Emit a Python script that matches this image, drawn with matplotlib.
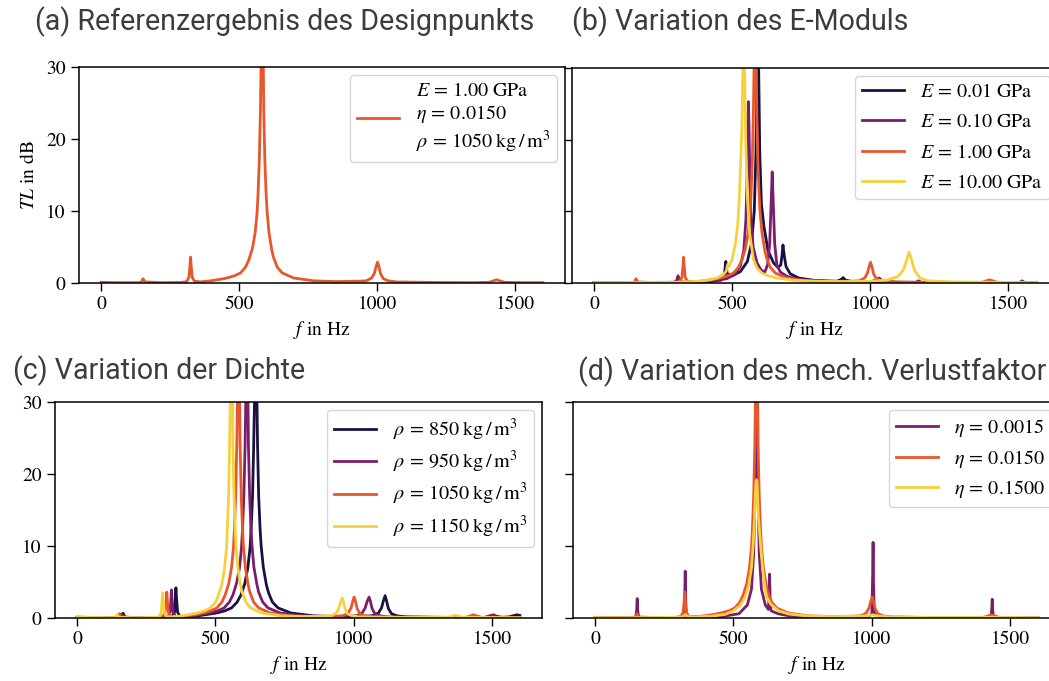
import matplotlib
matplotlib.use("Agg")
import matplotlib.pyplot as plt

plt.rcParams["font.family"] = "STIXGeneral"
plt.rcParams["mathtext.fontset"] = "stix"
plt.rcParams["font.size"] = 14

# colours of the four parameter levels
c_dark = "#1b1044"
c_purple = "#7a1d6d"
c_orange = "#e8562b"
c_yellow = "#f5d13d"

# reference design point (E = 1 GPa, eta = 0.015, rho = 1050 kg/m3)
f_ref = [0, 60, 140, 146, 152, 158, 220, 290, 310, 318, 322, 324, 326, 330, 338,
         360, 396, 430, 456, 483, 505, 523, 535, 548, 558, 565, 568.5, 573, 577, 580, 583,
         586, 589, 593, 597.5, 601, 608, 618, 624, 630, 638, 656, 697, 770, 850, 930,
         960, 980, 990, 996, 1001, 1006, 1012, 1022, 1040, 1070,
         1200, 1350, 1405, 1425, 1432, 1440, 1460, 1530, 1600]
tl_ref = [0.1, 0.05, 0.05, 0.15, 0.6, 0.15, 0.05, 0.08, 0.2, 0.8, 2.5, 3.6, 2.5, 0.8, 0.25,
          0.15, 0.3, 0.5, 0.7, 1.0, 1.4, 2.2, 3.2, 4.8, 7.0, 9.8, 12.5, 17, 24, 32, 45,
          36, 24, 17, 12.5, 10, 7.0, 4.6, 3.6, 3.0, 2.2, 1.4, 0.7, 0.3, 0.2, 0.25,
          0.3, 0.7, 1.4, 2.3, 2.9, 2.3, 1.3, 0.6, 0.3, 0.15,
          0.08, 0.05, 0.1, 0.35, 0.45, 0.35, 0.1, 0.05, 0.05]

# (b) Young's modulus variation
f_E001 = [0, 200, 300, 400, 460, 472, 477, 482, 500, 530, 555, 570, 580, 586, 590, 593,
          596, 600, 606, 615, 630, 650, 665, 676, 681, 684, 688, 695, 710, 740, 800, 880,
          895, 902, 910, 940, 1100, 1300, 1600]
tl_E001 = [0.05, 0.05, 0.1, 0.15, 0.4, 1.2, 3.0, 1.3, 1.0, 1.6, 3.0, 5.5, 10, 18, 30, 45,
           30, 18, 11, 7.9, 4.5, 2.8, 2.2, 2.5, 4.0, 5.3, 4.0, 2.3, 1.3, 0.7, 0.35, 0.25,
           0.5, 0.75, 0.4, 0.15, 0.1, 0.05, 0.05]

f_E010 = [0, 290, 300, 304, 308, 320, 420, 480, 510, 530, 542, 550, 554, 557, 559, 561,
          564, 568, 576, 590, 605, 618, 628, 636, 641, 645, 649, 654, 662, 675, 700, 740,
          800, 900, 1000, 1020, 1032, 1045, 1100, 1165, 1175, 1185, 1540, 1550, 1560, 1600]
tl_E010 = [0.05, 0.1, 0.4, 1.0, 0.4, 0.1, 0.2, 0.6, 1.2, 2.4, 4.5, 9, 15, 22, 25.3, 22,
           15, 9, 5, 2.8, 1.8, 1.5, 2.5, 5.5, 11, 15.5, 11, 5.5, 2.5, 1.5, 0.9, 0.5,
           0.3, 0.15, 0.15, 0.4, 0.7, 0.3, 0.1, 0.1, 0.3, 0.1, 0.05, 0.3, 0.05, 0.05]

f_E10 = [0, 300, 380, 420, 445, 465, 478, 484, 488, 500, 512, 520, 526, 531, 535, 539,
         542, 545, 549, 555, 563, 577, 590, 607, 630, 662, 720, 800, 900, 1000, 1060,
         1100, 1120, 1132, 1141, 1150, 1160, 1180, 1210, 1300, 1600]
tl_E10 = [0.05, 0.1, 0.25, 0.45, 0.7, 1.1, 1.6, 2.6, 2.3, 3.3, 5.5, 8, 12, 17, 21.4, 30,
          45, 30, 20, 12, 7, 3.3, 2.1, 1.4, 1.0, 0.7, 0.4, 0.25, 0.2, 0.25, 0.4,
          0.9, 1.8, 3.2, 4.3, 3.2, 1.8, 0.7, 0.3, 0.15, 0.05]

# (c) density variation
f_rho850 = [0, 150, 158, 166, 173, 240, 320, 343, 352, 355, 357, 359, 363, 372,
            400, 437, 504, 534, 558, 578, 592, 606, 617, 625, 629, 634, 638, 642, 645,
            648, 652, 656, 661, 665, 673, 684, 691, 697, 706, 726, 772, 853, 945, 1030,
            1066, 1089, 1100, 1107, 1113, 1118, 1125, 1136, 1156, 1190,
            1350, 1520, 1560, 1580, 1589, 1600]
tl_rho850 = [0.1, 0.05, 0.1, 0.65, 0.1, 0.05, 0.08, 0.2, 0.8, 2.8, 4.2, 2.8, 0.8, 0.2,
             0.15, 0.3, 0.7, 1.0, 1.4, 2.2, 3.2, 4.8, 7.0, 9.8, 12.5, 17, 24, 32, 45,
             36, 24, 17, 12.5, 10, 7.0, 4.6, 3.6, 3.0, 2.2, 1.4, 0.7, 0.3, 0.2, 0.25,
             0.3, 0.7, 1.4, 2.4, 3.1, 2.4, 1.3, 0.6, 0.3, 0.15,
             0.08, 0.05, 0.15, 0.35, 0.45, 0.35]

f_rho950 = [0, 145, 153, 160, 167, 230, 310, 328, 336, 339, 341, 343, 347, 355,
            380, 416, 479, 508, 531, 550, 563, 576, 587, 594, 598, 602.5, 607, 610, 613,
            616, 619, 623.5, 628, 632, 639, 650, 656, 662, 671, 690, 733, 810, 895, 980,
            1010, 1030, 1041, 1048, 1055, 1060, 1066, 1076, 1095, 1125,
            1300, 1470, 1490, 1505, 1513, 1535, 1600]
tl_rho950 = [0.1, 0.05, 0.1, 0.55, 0.1, 0.05, 0.08, 0.2, 0.8, 2.6, 3.9, 2.6, 0.8, 0.2,
             0.15, 0.3, 0.7, 1.0, 1.4, 2.2, 3.2, 4.8, 7.0, 9.8, 12.5, 17, 24, 32, 45,
             36, 24, 17, 12.5, 10, 7.0, 4.6, 3.6, 3.0, 2.2, 1.4, 0.7, 0.3, 0.2, 0.25,
             0.3, 0.7, 1.4, 2.3, 2.9, 2.3, 1.3, 0.6, 0.3, 0.15,
             0.08, 0.05, 0.3, 0.45, 0.3, 0.1, 0.05]

f_rho1150 = [0, 132, 139, 145, 151, 210, 285, 297, 304, 307, 309, 311, 315, 323,
             345, 378, 436, 461, 482, 500, 511, 524, 533, 540, 543, 547.5, 551, 554, 557,
             560, 563, 567, 571, 574, 581, 590, 596, 602, 610, 627, 666, 736, 810, 880,
             918, 937, 946, 952, 958, 963, 968, 977, 994, 1022,
             1200, 1340, 1360, 1367, 1374, 1395, 1600]
tl_rho1150 = [0.1, 0.05, 0.1, 0.45, 0.1, 0.05, 0.08, 0.2, 0.8, 2.5, 3.5, 2.5, 0.8, 0.2,
              0.15, 0.3, 0.7, 1.0, 1.4, 2.2, 3.2, 4.8, 7.0, 9.8, 12.5, 17, 24, 32, 45,
              36, 24, 17, 12.5, 10, 7.0, 4.6, 3.6, 3.0, 2.2, 1.4, 0.7, 0.3, 0.2, 0.25,
              0.3, 0.7, 1.4, 2.2, 2.8, 2.2, 1.3, 0.6, 0.3, 0.15,
              0.08, 0.1, 0.3, 0.4, 0.3, 0.1, 0.05]

# (d) loss factor variation
f_eta_lo = [0, 146, 150, 152, 154, 158, 320, 323, 325.5, 328, 331,
            450, 520, 550, 565, 573, 578, 581, 583, 585, 588, 593, 601, 615,
            626, 628.5, 630.5, 632.5, 636, 660, 700, 800,
            985, 1000, 1003, 1004.5, 1006, 1009, 1030, 1430, 1433, 1435, 1437, 1440, 1600]
tl_eta_lo = [0.05, 0.05, 1.0, 2.7, 1.0, 0.05, 0.1, 1.5, 6.5, 1.5, 0.2,
             0.15, 0.6, 1.8, 4.0, 9, 18, 32, 60, 32, 18, 9, 4.0, 1.8,
             1.2, 3.0, 6.1, 2.5, 1.0, 0.6, 0.3, 0.1,
             0.1, 0.6, 6, 10.5, 5, 0.6, 0.1, 0.05, 1.0, 2.6, 1.0, 0.05, 0.05]

f_eta_hi = [0, 150, 300, 318, 326, 334, 360, 420, 470, 500, 525, 543, 555, 565, 571, 576,
            580, 581.5, 583, 584.5, 586, 590, 598, 605, 612, 619, 635, 663, 700, 760, 850,
            960, 990, 1004, 1020, 1060, 1200, 1420, 1435, 1450, 1600]
tl_eta_hi = [0.05, 0.05, 0.1, 0.2, 0.5, 0.2, 0.15, 0.25, 0.5, 1.0, 1.8, 3.0, 4.5, 7.0, 10, 14,
             18, 18.9, 19.2, 18.9, 18, 14, 10, 7.0, 4.7, 3.0, 1.9, 1.0, 0.55, 0.3, 0.2,
             0.25, 0.35, 0.45, 0.3, 0.15, 0.08, 0.08, 0.12, 0.08, 0.05]

eq = "\\,=\\,"
gpa = "\\;\\mathrm{GPa}"
kgm3 = "\\;\\mathrm{kg\\,/\\,m^3}"
lab_ref = ("$E" + eq + "1.00" + gpa + "$\n$\\eta" + eq + "0.0150$\n"
           "$\\rho" + eq + "1050" + kgm3 + "$")
lab_E = ["$E" + eq + v + gpa + "$" for v in ["0.01", "0.10", "1.00", "10.00"]]
lab_rho = ["$\\rho" + eq + v + kgm3 + "$" for v in ["850", "950", "1050", "1150"]]
lab_eta = ["$\\eta" + eq + v + "$" for v in ["0.0015", "0.0150", "0.1500"]]

titles = ["(a) Referenzergebnis des Designpunkts", "(b) Variation des E-Moduls",
          "(c) Variation der Dichte", "(d) Variation des mech. Verlustfaktor"]

W, H = 1049, 681
fig = plt.figure(figsize=(W / 100, H / 100), dpi=100)


def px_axes(left, top, width, height):
    return fig.add_axes([left / W, 1 - (top + height) / H, width / W, height / H])


def style(ax, ylabels=True):
    ax.set_xlim(-80, 1680)
    ax.set_ylim(0, 30)
    ax.set_xticks([0, 500, 1000, 1500])
    ax.set_yticks([0, 10, 20, 30])
    ax.tick_params(direction="out", length=5.5, width=1.0, pad=4, labelsize=14)
    if not ylabels:
        ax.set_yticklabels([])
    for s in ax.spines.values():
        s.set_linewidth(1.1)
    ax.set_xlabel("$f$ in Hz", fontsize=14, labelpad=4)


def add_legend(ax, spacing):
    ax.legend(loc="upper right", fontsize=14.5, handlelength=2.1, handletextpad=0.8,
              labelspacing=spacing, borderaxespad=0.4, borderpad=0.35)


lw = 2.0
ax_a = px_axes(79, 67, 486, 216)
ax_b = px_axes(572, 68, 486, 215)
ax_c = px_axes(55, 402, 487, 216)
ax_d = px_axes(573, 402, 487, 216)

# (a)
ax_a.plot(f_ref, tl_ref, color=c_orange, lw=lw, label=lab_ref)
style(ax_a)
ax_a.set_ylabel("$TL$ in dB", fontsize=14, labelpad=6)
add_legend(ax_a, 0.3)

# (b)
for f, tl, c, lab in zip([f_E001, f_E010, f_ref, f_E10], [tl_E001, tl_E010, tl_ref, tl_E10],
                         [c_dark, c_purple, c_orange, c_yellow], lab_E):
    ax_b.plot(f, tl, color=c, lw=lw, label=lab)
style(ax_b, ylabels=False)
add_legend(ax_b, 0.6)

# (c)
for f, tl, c, lab in zip([f_rho850, f_rho950, f_ref, f_rho1150],
                         [tl_rho850, tl_rho950, tl_ref, tl_rho1150],
                         [c_dark, c_purple, c_orange, c_yellow], lab_rho):
    ax_c.plot(f, tl, color=c, lw=lw, label=lab)
style(ax_c)
add_legend(ax_c, 0.3)

# (d)
for f, tl, c, lab in zip([f_eta_lo, f_ref, f_eta_hi], [tl_eta_lo, tl_ref, tl_eta_hi],
                         [c_purple, c_orange, c_yellow], lab_eta):
    ax_d.plot(f, tl, color=c, lw=lw, label=lab)
style(ax_d, ylabels=False)
add_legend(ax_d, 0.42)

# panel titles
title_pos = [(35, 22), (572, 22), (13, 371), (578, 372)]
for (x, y), t in zip(title_pos, titles):
    fig.text(x / W, 1 - y / H, t, family="Roboto", fontsize=20.6, color="#3c3c3c",
             ha="left", va="center")

fig.savefig("out.png", dpi=100)
